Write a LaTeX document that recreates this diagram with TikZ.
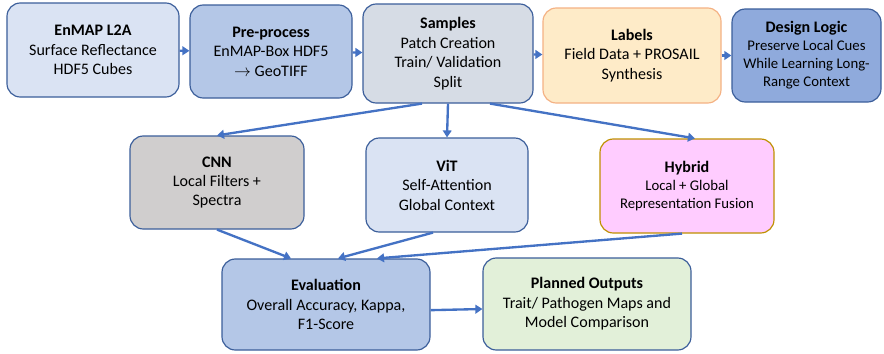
\documentclass[tikz,border=0pt]{standalone}
\usepackage{fontspec}
\setmainfont{Carlito}
\usetikzlibrary{arrows.meta}
\definecolor{edgeblue}{HTML}{3B5E9A}
\definecolor{linkblue}{HTML}{4472C4}
\definecolor{paleblue}{HTML}{DAE3F3}
\definecolor{midblue}{HTML}{B4C7E7}
\definecolor{slateblue}{HTML}{D6DCE5}
\definecolor{deepblue}{HTML}{8FAADC}
\definecolor{peach}{HTML}{FEEBC8}
\definecolor{peachedge}{HTML}{F4B183}
\definecolor{stone}{HTML}{D0CECE}
\definecolor{pinkfill}{HTML}{FFCCFF}
\definecolor{goldedge}{HTML}{BF9000}
\definecolor{mint}{HTML}{E2F0D9}
\newcommand{\boxtitle}[1]{{\fontsize{13.7}{16.6}\selectfont\bfseries #1}}
\begin{document}
\begin{tikzpicture}[stage node/.style={draw=edgeblue, line width=1pt, rounded corners=0.4cm, font=\fontsize{13.7}{16.6}\selectfont, align=center, inner sep=2pt},small node/.style={stage node, font=\fontsize{12.6}{15.4}\selectfont},link/.style={draw=linkblue, line width=2pt, -{Triangle[length=6pt,width=7.5pt]}}]%
  % Top row: data preparation%
\node[stage node, fill=paleblue, minimum width=5.16cm, minimum height=2.82cm] (enmap) at (2.79,-1.50) {\textbf{EnMAP L2A}\\Surface Reflectance\\HDF5 Cubes};%
\node[stage node, fill=midblue, minimum width=4.86cm, minimum height=2.79cm] (prep) at (8.13,-1.545) {\textbf{Pre-process}\\EnMAP-Box HDF5\\$\rightarrow$ GeoTIFF};%
\node[stage node, fill=slateblue, minimum width=5.10cm, minimum height=2.97cm] (samples) at (13.44,-1.605) {\textbf{Samples}\\Patch Creation\\Train/ Validation\\Split};%
\node[stage node, draw=peachedge, fill=peach, minimum width=5.34cm, minimum height=2.85cm] (labels) at (18.96,-1.665) {\textbf{Labels}\\Field Data + PROSAIL\\Synthesis};%
\node[small node, fill=deepblue, minimum width=4.47cm, minimum height=2.79cm] (design) at (24.195,-1.665) {\boxtitle{Design Logic}\\Preserve Local Cues\\While Learning Long-\\Range Context};%
  % Middle row: models%
\node[stage node, fill=stone, minimum width=5.22cm, minimum height=2.79cm] (cnn) at (6.51,-5.475) {\textbf{CNN}\\Local Filters +\\Spectra};%
\node[stage node, fill=paleblue, minimum width=4.86cm, minimum height=2.82cm] (vit) at (13.41,-5.55) {\textbf{ViT}\\Self-Attention\\Global Context};%
\node[small node, draw=goldedge, fill=pinkfill, minimum width=5.22cm, minimum height=2.82cm] (hybrid) at (20.61,-5.58) {\boxtitle{Hybrid}\\Local + Global\\Representation Fusion};%
  % Bottom row: results%
\node[stage node, fill=midblue, minimum width=6.24cm, minimum height=2.73cm] (eval) at (9.78,-9.135) {\textbf{Evaluation}\\Overall Accuracy, Kappa,\\F1-Score};%
\node[stage node, fill=mint, minimum width=6.24cm, minimum height=2.76cm] (planned) at (17.61,-9.12) {\textbf{Planned Outputs}\\Trait/ Pathogen Maps and\\Model Comparison};%
  % Connectors%
\draw[link] (enmap) -- (prep);%
\draw[link] (prep) -- (samples);%
\draw[link] (samples) -- (labels);%
\draw[link] (labels) -- (design);%
\draw[link] ([xshift=-0.78cm]samples.south) -- (cnn.north);%
\draw[link] (samples.south) -- (vit.north);%
\draw[link] ([xshift=1.26cm]samples.south) -- ([xshift=0.24cm]hybrid.north);%
\draw[link] (cnn.south) -- ([xshift=-1.05cm]eval.north);%
\draw[link] ([xshift=-0.42cm]vit.south) -- ([xshift=0.36cm]eval.north);%
\draw[link] ([xshift=-0.15cm]hybrid.south) -- ([xshift=1.53cm]eval.north);%
\draw[link] ([yshift=-0.17cm]eval.east) -- ([yshift=-0.15cm]planned.west);%
\path[use as bounding box] (0,0) rectangle (26.52,-10.59);%
\end{tikzpicture}
\end{document}
